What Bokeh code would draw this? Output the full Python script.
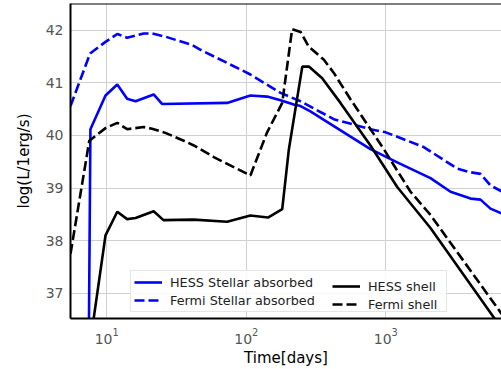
from bokeh.plotting import figure
from bokeh.models import Legend, LegendItem, FixedTicker, Span
from bokeh.embed import file_html
from bokeh.resources import INLINE

# HESS Stellar absorbed (blue solid)
t_hess_stellar = [7.43, 7.64, 9.8, 11.9, 14.0, 16.1, 21.7, 24.9, 72.9, 107, 141, 176, 219,
                  245, 288, 424, 776, 1207, 2090, 2910, 4050, 4770, 5620, 6740]
L_hess_stellar = [35.86, 40.12, 40.76, 40.97, 40.70, 40.65, 40.78, 40.60, 40.62, 40.76, 40.74,
                  40.67, 40.59, 40.56, 40.46, 40.18, 39.74, 39.49, 39.19, 38.93, 38.80, 38.78,
                  38.61, 38.52]

# Fermi Stellar absorbed (blue dashed)
t_fermi_stellar = [5.5, 7.6, 9.8, 11.9, 14.0, 18.4, 21.1, 26.3, 40.9, 47, 107, 176, 245, 424,
                   776, 1000, 1870, 3250, 4050, 4770, 5620, 6740]
L_fermi_stellar = [40.56, 41.56, 41.78, 41.93, 41.86, 41.94, 41.94, 41.88, 41.72, 41.63, 41.16,
                   40.81, 40.65, 40.31, 40.12, 40.06, 39.78, 39.37, 39.30, 39.27, 39.05, 38.94]

# HESS shell (black solid)
t_hess_shell = [7.43, 9.8, 11.9, 14.0, 16.1, 21.7, 25.5, 42.0, 72.9, 107, 143, 181, 202,
                252, 281, 350, 473, 776, 1207, 2089, 5943, 7100]
L_hess_shell = [35.86, 38.10, 38.55, 38.41, 38.43, 38.56, 38.39, 38.40, 38.36, 38.48, 38.44,
                38.60, 39.74, 41.31, 41.31, 41.09, 40.62, 39.81, 39.02, 38.24, 36.54, 36.25]

# Fermi shell (black dashed)
t_fermi_shell = [5.5, 7.5, 9.8, 11.9, 14.0, 18.4, 21.1, 26.3, 35.6, 42.1, 58.5, 107, 141, 181,
                 213, 245, 280, 360, 424, 558, 968, 1503, 2089, 6745, 7100]
L_fermi_shell = [37.75, 39.90, 40.14, 40.24, 40.12, 40.16, 40.13, 40.05, 39.90, 39.81, 39.59,
                 39.24, 40.06, 40.62, 42.02, 41.97, 41.69, 41.44, 41.19, 40.69, 39.74, 38.93,
                 38.49, 36.61, 36.53]

y_ticks = [37, 38, 39, 40, 41, 42]
labels = ["HESS Stellar absorbed", "Fermi Stellar absorbed", "HESS shell", "Fermi shell"]

FONT = "DejaVu Sans"
Y_END = 42.51

p = figure(width=501, height=369, x_axis_type="log", x_range=(5.5, 6745),
           y_range=(36.52, Y_END), output_backend="svg", toolbar_location=None,
           min_border_left=70, min_border_right=0, min_border_top=3, min_border_bottom=48)
p.outline_line_color = None
p.background_fill_color = "white"

DASH = "10 4"
LW = 2.6
r1 = p.line(t_hess_stellar, L_hess_stellar, line_color="#0000ff", line_width=LW)
r2 = p.line(t_fermi_stellar, L_fermi_stellar, line_color="#0000ff", line_width=LW, line_dash=DASH)
r3 = p.line(t_hess_shell, L_hess_shell, line_color="black", line_width=LW)
r4 = p.line(t_fermi_shell, L_fermi_shell, line_color="black", line_width=LW, line_dash=DASH)

# axes
for ax in (p.xaxis[0], p.yaxis[0]):
    ax.axis_line_color = "black"
    ax.axis_line_width = 2
    ax.major_tick_line_color = None
    ax.minor_tick_line_color = None
    ax.major_tick_out = 0
    ax.major_label_text_font = FONT
    ax.major_label_text_font_size = "14px"
    ax.major_label_text_color = "#555555"
    ax.axis_label_text_font = FONT
    ax.axis_label_text_font_size = "15px"
    ax.axis_label_text_font_style = "normal"
    ax.axis_label_text_color = "black"

p.xaxis.axis_label = "Time[days]"
p.yaxis.axis_label = "log(L/1erg/s)"
p.yaxis.ticker = FixedTicker(ticks=y_ticks)
p.yaxis.major_label_standoff = 7
p.xaxis.major_label_standoff = 5
p.xaxis.axis_label_standoff = 2
p.yaxis.axis_label_standoff = 10

p.ygrid.ticker = FixedTicker(ticks=y_ticks)
p.xgrid.grid_line_color = "#d0d0d0"
p.ygrid.grid_line_color = "#d0d0d0"
p.xgrid.grid_line_width = 1
p.ygrid.grid_line_width = 1

p.add_layout(Span(location=Y_END, dimension="width", line_color="black", line_width=2))

def style_legend(lg):
    lg.label_text_font = FONT
    lg.label_text_font_size = "12.8px"
    lg.label_text_color = "#222222"
    lg.glyph_width = 28
    lg.glyph_height = 16
    lg.label_height = 16
    lg.label_standoff = 8
    lg.spacing = 2
    lg.padding = 3
    lg.margin = 0

leg1 = Legend(items=[LegendItem(label=labels[0], renderers=[r1]),
                     LegendItem(label=labels[1], renderers=[r2])],
              location=(60, 6))
style_legend(leg1)
leg1.label_width = 273
leg1.border_line_color = "#cccccc"
leg1.border_line_width = 1
leg1.background_fill_alpha = 0.85

leg2 = Legend(items=[LegendItem(label=labels[2], renderers=[r3]),
                     LegendItem(label=labels[3], renderers=[r4])],
              location=(262, 6))
style_legend(leg2)
leg2.border_line_color = None
leg2.background_fill_alpha = 0

p.add_layout(leg1)
p.add_layout(leg2)

open("out.html", "w").write(file_html(p, INLINE))
